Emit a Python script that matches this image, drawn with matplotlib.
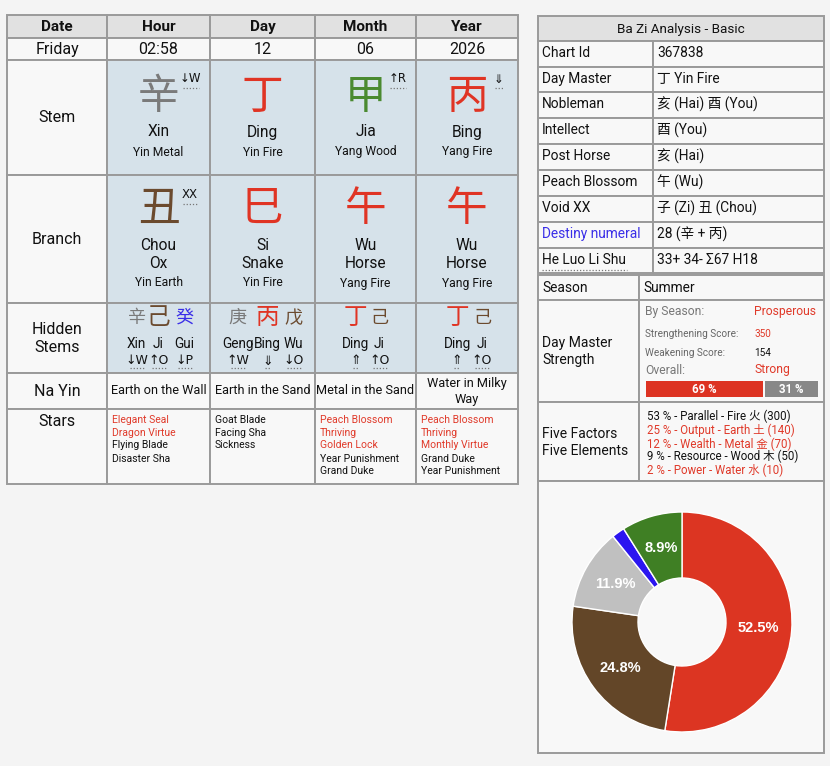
import matplotlib
matplotlib.use('Agg')
import matplotlib.pyplot as plt
from matplotlib.patches import Rectangle

plt.rcParams['font.family'] = ['Roboto', 'Noto Sans CJK SC', 'DejaVu Sans']

########################################
# data
########################################
pillars = ['Hour', 'Day', 'Month', 'Year']
date_values = ['Friday', '02:58', '12', '06', '2026']

stem_chars = ['辛', '丁', '甲', '丙']
stem_names = ['Xin', 'Ding', 'Jia', 'Bing']
stem_elements = ['Yin Metal', 'Yin Fire', 'Yang Wood', 'Yang Fire']
stem_marks = ['↓W', '', '↑R', '⇓']

branch_chars = ['丑', '巳', '午', '午']
branch_names = ['Chou', 'Si', 'Wu', 'Wu']
branch_animals = ['Ox', 'Snake', 'Horse', 'Horse']
branch_elements = ['Yin Earth', 'Yin Fire', 'Yang Fire', 'Yang Fire']
branch_marks = ['XX', '', '', '']

hidden_chars = [['辛', '己', '癸'], ['庚', '丙', '戊'], ['丁', '己'], ['丁', '己']]
hidden_names = [['Xin', 'Ji', 'Gui'], ['Geng', 'Bing', 'Wu'], ['Ding', 'Ji'], ['Ding', 'Ji']]
hidden_marks = [['↓W', '↑O', '↓P'], ['↑W', '⇓', '↓O'], ['⇑', '↑O'], ['⇑', '↑O']]
hidden_main = [1, 1, 0, 0]

na_yin = ['Earth on the Wall', 'Earth in the Sand', 'Metal in the Sand', 'Water in Milky\nWay']

# (star, favourable)
stars = [
    [('Elegant Seal', True), ('Dragon Virtue', True), ('Flying Blade', False), ('Disaster Sha', False)],
    [('Goat Blade', False), ('Facing Sha', False), ('Sickness', False)],
    [('Peach Blossom', True), ('Thriving', True), ('Golden Lock', True),
     ('Year Punishment', False), ('Grand Duke', False)],
    [('Peach Blossom', True), ('Thriving', True), ('Monthly Virtue', True),
     ('Grand Duke', False), ('Year Punishment', False)],
]

char_element = {'甲': 'wood', '丙': 'fire', '丁': 'fire', '戊': 'earth', '己': 'earth',
                '庚': 'metal', '辛': 'metal', '癸': 'water', '丑': 'earth', '巳': 'fire',
                '午': 'fire'}

basic_labels = ['Chart Id', 'Day Master', 'Nobleman', 'Intellect', 'Post Horse',
                'Peach Blossom', 'Void XX', 'Destiny numeral', 'He Luo Li Shu']
basic_values = ['367838', '丁 Yin Fire', '亥 (Hai) 酉 (You)', '酉 (You)', '亥 (Hai)',
                '午 (Wu)', '子 (Zi) 丑 (Chou)', '28 (辛 + 丙)', '33+ 34- Σ67 H18']

season = 'Summer'
by_season = 'Prosperous'
strengthening_score = 350
weakening_score = 154
overall = 'Strong'
strength_pct = [69, 31]

factor_pct = [53, 25, 12, 9, 2]
factor_names = ['Parallel', 'Output', 'Wealth', 'Resource', 'Power']
factor_elements = ['Fire 火', 'Earth 土', 'Metal 金', 'Wood 木', 'Water 水']
factor_scores = [300, 140, 70, 50, 10]
factor_good = [True, False, False, True, False]

pie_elements = ['fire', 'earth', 'metal', 'water', 'wood']
pie_values = [52.5, 24.8, 11.9, 1.9, 8.9]

########################################
# style
########################################
ELEMENT_COLORS = {'fire': '#e03424', 'earth': '#6b4a2e', 'metal': '#7a7a7a',
                  'water': '#3a2ee8', 'wood': '#4a8a30'}
PIE_COLORS = {'fire': '#dc3522', 'earth': '#634628', 'metal': '#c0c0c0',
              'water': '#2b15f0', 'wood': '#3f7f24'}
RED = '#e03a2a'
GRID = '#9a9a9a'
BG = '#f4f4f4'
CELL = '#f8f8f8'
HEAD = '#e1e1e1'
BLUE_CELL = '#d6e2ea'
CJK = ['Noto Sans CJK SC', 'DejaVu Sans']

fig = plt.figure(figsize=(8.3, 7.66), dpi=100)
fig.patch.set_facecolor(BG)
ax = fig.add_axes([0, 0, 1, 1])
ax.set_xlim(0, 830)
ax.set_ylim(766, 0)
ax.axis('off')


def cell(x0, y0, x1, y1, fc):
    ax.add_patch(Rectangle((x0, y0), x1 - x0, y1 - y0, facecolor=fc,
                           edgecolor=GRID, linewidth=1.4, zorder=1))


def txt(x, y, s, size, color='#111111', ha='center', weight='normal', family=None):
    kw = {}
    if family is not None:
        kw['family'] = family
    ax.text(x, y, s, fontsize=size, color=color, ha=ha, va='center',
            weight=weight, zorder=3, **kw)


def dots(x0, x1, y):
    ax.plot([x0, x1], [y, y], linestyle=(0, (1, 1.5)), color='#777777', lw=0.9, zorder=3)


########################################
# left table
########################################
cols = [7, 107, 210, 315, 416, 518]
rows = [15, 38, 60, 175, 303, 373, 409, 484]
centers = [(cols[i] + cols[i + 1]) / 2 for i in range(5)]

for r in range(len(rows) - 1):
    for c in range(5):
        if r == 0:
            fc = HEAD
        elif c > 0 and r in (2, 3, 4):
            fc = BLUE_CELL
        else:
            fc = CELL
        cell(cols[c], rows[r], cols[c + 1], rows[r + 1], fc)

txt(centers[0], 27, 'Date', 11, weight='bold')
for i, p in enumerate(pillars):
    txt(centers[i + 1], 27, p, 11, weight='bold')
for i, v in enumerate(date_values):
    txt(centers[i], 49.5, v, 11.5)

txt(centers[0], 118, 'Stem', 11.5)
txt(centers[0], 240, 'Branch', 11.5)
txt(centers[0], 329, 'Hidden', 11.5)
txt(centers[0], 347, 'Stems', 11.5)
txt(centers[0], 391, 'Na Yin', 11.5)
txt(centers[0], 421, 'Stars', 11.5)

for i in range(4):
    cx = centers[i + 1]
    # stem
    col = ELEMENT_COLORS[char_element[stem_chars[i]]]
    txt(cx, 97, stem_chars[i], 30, color=col, family=CJK)
    txt(cx, 132, stem_names[i], 11.2)
    txt(cx, 152, stem_elements[i], 8.7)
    if stem_marks[i]:
        mx = cx + 32
        txt(mx, 79, stem_marks[i], 8.5, ha='center', family=['DejaVu Sans'])
        w = 8 if len(stem_marks[i]) > 1 else 4
        dots(mx - w, mx + w, 88)
    # branch
    col = ELEMENT_COLORS[char_element[branch_chars[i]]]
    txt(cx, 209, branch_chars[i], 30, color=col, family=CJK)
    txt(cx, 245, branch_names[i], 11.2)
    txt(cx, 264, branch_animals[i], 11.2)
    txt(cx, 283, branch_elements[i], 8.7)
    if branch_marks[i]:
        mx = cx + 31
        txt(mx, 195, branch_marks[i], 8.5, family=['DejaVu Sans'])
        dots(mx - 7, mx + 7, 204)

hidden_offsets = [[-22, 0, 26], [-25, 5, 31], [-10, 14], [-10, 15]]
for i in range(4):
    cx = centers[i + 1]
    for j, ch in enumerate(hidden_chars[i]):
        hx = cx + hidden_offsets[i][j]
        big = (j == hidden_main[i])
        col = ELEMENT_COLORS[char_element[ch]]
        txt(hx, 317 if big else 318, ch, 17 if big else 13, color=col, family=CJK)
        txt(hx, 344, hidden_names[i][j], 9.8)
        txt(hx, 361, hidden_marks[i][j], 9, family=['DejaVu Sans'])
        w = 7 if len(hidden_marks[i][j]) > 1 else 3
        dots(hx - w, hx + w, 368)

for i, ny in enumerate(na_yin):
    cx = centers[i + 1]
    lines = ny.split('\n')
    if len(lines) == 1:
        txt(cx, 391, lines[0], 9.2)
    else:
        txt(cx, 384, lines[0], 9.2)
        txt(cx, 399, lines[1], 9.2)

star_y = [420, 433, 445, 459, 471]
for i, lst in enumerate(stars):
    for j, (name, good) in enumerate(lst):
        txt(cols[i + 1] + 5, star_y[j], name, 7.5, color=RED if good else '#111111', ha='left')

########################################
# right table: basic
########################################
rx = [538, 653, 824]
ry = [16, 41, 67, 92, 118, 144, 170, 196, 222, 248, 273]
cell(rx[0], ry[0], rx[2], ry[1], HEAD)
txt((rx[0] + rx[2]) / 2, 29, 'Ba Zi Analysis - Basic', 9.7)
for k in range(len(basic_labels)):
    y0, y1 = ry[k + 1], ry[k + 2]
    cell(rx[0], y0, rx[1], y1, CELL)
    cell(rx[1], y0, rx[2], y1, CELL)
    lc = '#3a2ee8' if basic_labels[k] == 'Destiny numeral' else '#111111'
    txt(542, (y0 + y1) / 2 - 1, basic_labels[k], 9.9, color=lc, ha='left')
    txt(657, (y0 + y1) / 2 - 1, basic_values[k], 9.9, ha='left')
dots(542, 627, 270)

########################################
# right table: strength
########################################
sx = [538, 639, 824]
sy = [275, 300, 402, 481, 753]
for k in range(3):
    cell(sx[0], sy[k], sx[1], sy[k + 1], CELL)
    cell(sx[1], sy[k], sx[2], sy[k + 1], CELL)
cell(sx[0], sy[3], sx[2], sy[4], CELL)

txt(542, 288, 'Season', 9.9, ha='left')
txt(643, 288, season, 9.9, ha='left')
txt(542, 343, 'Day Master', 10, ha='left')
txt(542, 360, 'Strength', 10, ha='left')
txt(542, 434, 'Five Factors', 10, ha='left')
txt(542, 451, 'Five Elements', 10, ha='left')

txt(645, 312, 'By Season:', 8.7, color='#777777', ha='left')
txt(754, 312, by_season, 8.7, color=RED, ha='left')
txt(645, 334, 'Strengthening Score:', 7.2, color='#666666', ha='left')
txt(754, 334, str(strengthening_score), 7.2, color=RED, ha='left')
txt(645, 353, 'Weakening Score:', 7.2, color='#666666', ha='left')
txt(754, 353, str(weakening_score), 7.2, color='#111111', ha='left')
txt(645, 370, 'Overall:', 8.7, color='#777777', ha='left')
txt(754, 370, overall, 8.7, color=RED, ha='left')

bar_x0, bar_x1, gap = 645.5, 818, 2.5
span = bar_x1 - bar_x0 - gap
w1 = span * strength_pct[0] / sum(strength_pct)
ax.add_patch(Rectangle((bar_x0, 381), w1, 16, facecolor='#dd3322', edgecolor='none', zorder=2))
ax.add_patch(Rectangle((bar_x0 + w1 + gap, 381), span - w1, 16, facecolor='#888888',
                       edgecolor='none', zorder=2))
txt(bar_x0 + w1 / 2, 389.5, '%d %%' % strength_pct[0], 8.3, color='white', weight='bold')
txt(bar_x0 + w1 + gap + (span - w1) / 2, 389.5, '%d %%' % strength_pct[1], 8.3,
    color='white', weight='bold')

fy = [416, 430, 444, 456, 470]
for k in range(5):
    s = '%d %% - %s - %s (%d)' % (factor_pct[k], factor_names[k], factor_elements[k], factor_scores[k])
    txt(647, fy[k], s, 8.3, color='#111111' if factor_good[k] else RED, ha='left')

########################################
# donut
########################################
pcx, pcy, pr = 682, 622, 110
pax = fig.add_axes([(pcx - pr) / 830, (766 - pcy - pr) / 766, 2 * pr / 830, 2 * pr / 766])
pax.pie(pie_values, colors=[PIE_COLORS[e] for e in pie_elements], startangle=90,
        counterclock=False, radius=1.0,
        autopct=lambda p: ('%.1f%%' % p) if p > 5 else '', pctdistance=0.7,
        wedgeprops=dict(width=0.6, edgecolor='white', linewidth=1),
        textprops=dict(color='white', weight='bold', fontsize=10.5, family='Liberation Sans'))
pax.set_xlim(-1, 1)
pax.set_ylim(-1, 1)
pax.set_aspect('equal')

fig.savefig('out.png', dpi=100, facecolor=BG)
